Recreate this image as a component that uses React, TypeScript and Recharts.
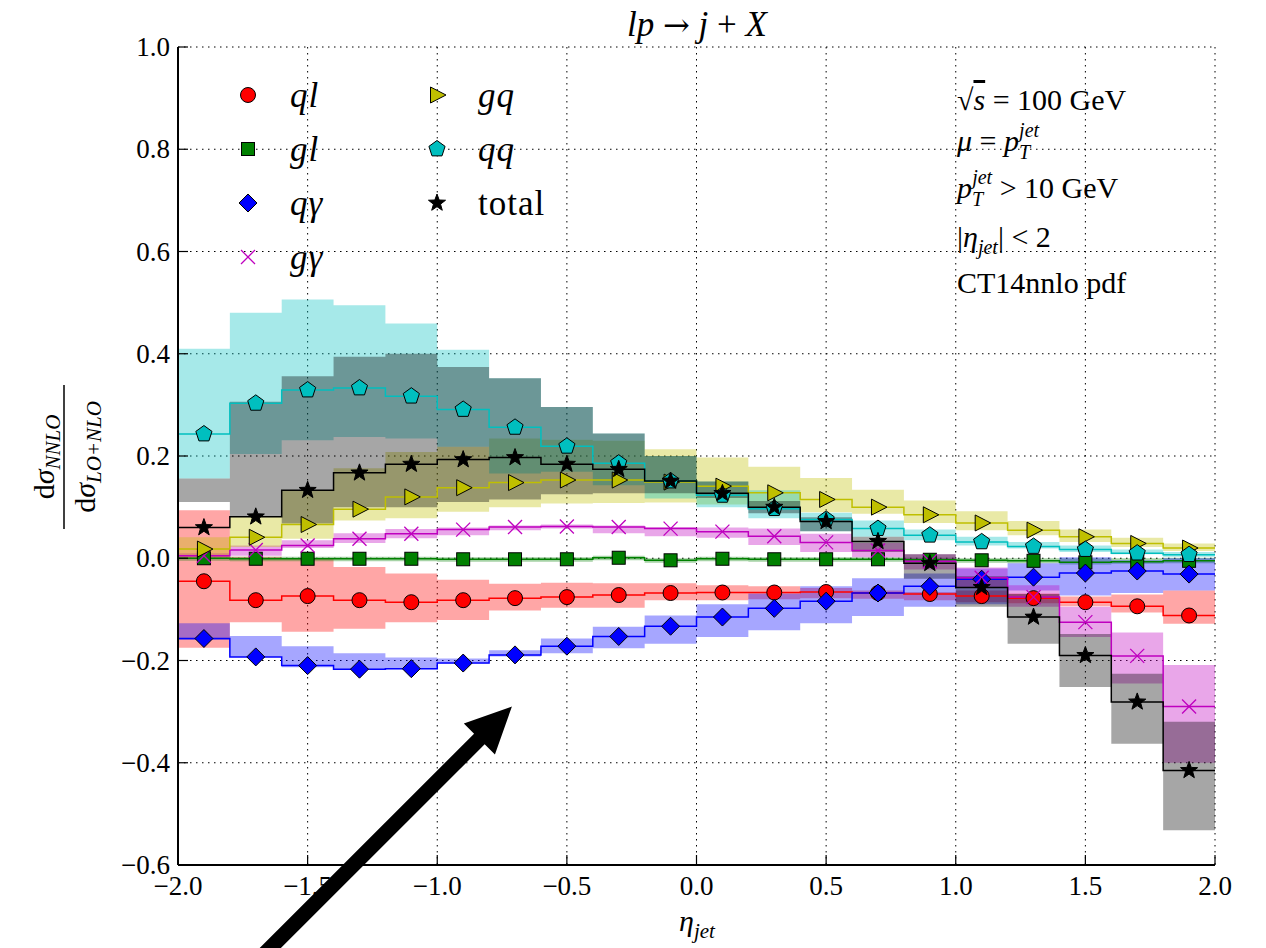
import React from 'react';
import { ComposedChart, Area, Line, Scatter, XAxis, YAxis, CartesianGrid, ReferenceLine } from 'recharts';

// bins of eta_jet, width 0.2
const BIN_EDGES = [-2.0, -1.8, -1.6, -1.4, -1.2, -1.0, -0.8, -0.6, -0.4, -0.2, 0.0, 0.2, 0.4, 0.6, 0.8, 1.0, 1.2, 1.4, 1.6, 1.8, 2.0];
const BIN_CENTERS = [-1.9, -1.7, -1.5, -1.3, -1.1, -0.9, -0.7, -0.5, -0.3, -0.1, 0.1, 0.3, 0.5, 0.7, 0.9, 1.1, 1.3, 1.5, 1.7, 1.9];
const X_TICKS = [-2, -1.5, -1, -0.5, 0, 0.5, 1, 1.5, 2];
const Y_TICKS = [-0.6, -0.4, -0.2, 0, 0.2, 0.4, 0.6, 0.8, 1.0];

// central values and scale-variation bands per channel
const QL = [-0.045, -0.082, -0.074, -0.082, -0.086, -0.082, -0.078, -0.076, -0.072, -0.068, -0.067, -0.067, -0.066, -0.068, -0.070, -0.074, -0.078, -0.086, -0.094, -0.112];
const QL_LO = [-0.175, -0.125, -0.144, -0.138, -0.125, -0.121, -0.102, -0.097, -0.097, -0.082, -0.082, -0.080, -0.078, -0.079, -0.082, -0.086, -0.088, -0.094, -0.106, -0.128];
const QL_HI = [0.094, 0.003, 0.0, -0.017, -0.030, -0.042, -0.050, -0.048, -0.049, -0.049, -0.053, -0.055, -0.058, -0.063, -0.066, -0.063, -0.069, -0.075, -0.071, -0.063];

const GL = [0.0, -0.001, -0.001, -0.001, -0.001, -0.002, -0.002, -0.002, 0.001, -0.004, -0.001, -0.002, -0.002, -0.002, -0.003, -0.004, -0.005, -0.008, -0.007, -0.005];
const GL_LO = [-0.005, -0.006, -0.006, -0.006, -0.006, -0.007, -0.007, -0.007, -0.004, -0.009, -0.006, -0.007, -0.007, -0.007, -0.008, -0.009, -0.010, -0.012, -0.011, -0.010];
const GL_HI = [0.004, 0.003, 0.003, 0.003, 0.003, 0.002, 0.002, 0.002, 0.005, 0.0, 0.003, 0.002, 0.002, 0.002, 0.001, 0.0, 0.0, 0.0, 0.0, 0.001];

const QA = [-0.157, -0.193, -0.210, -0.217, -0.216, -0.205, -0.189, -0.172, -0.153, -0.133, -0.115, -0.098, -0.084, -0.068, -0.055, -0.041, -0.037, -0.029, -0.025, -0.031];
const QA_LO = [-0.160, -0.193, -0.213, -0.217, -0.217, -0.206, -0.192, -0.186, -0.176, -0.167, -0.154, -0.141, -0.127, -0.113, -0.095, -0.090, -0.063, -0.073, -0.068, -0.063];
const QA_HI = [-0.127, -0.152, -0.172, -0.186, -0.194, -0.196, -0.180, -0.157, -0.134, -0.112, -0.090, -0.069, -0.055, -0.039, -0.030, -0.020, -0.010, 0.002, -0.004, 0.0];

const GA = [0.005, 0.016, 0.025, 0.038, 0.048, 0.056, 0.061, 0.062, 0.061, 0.058, 0.052, 0.043, 0.031, 0.015, -0.006, -0.038, -0.076, -0.125, -0.191, -0.290];
const GA_LO = [0.0, 0.005, 0.020, 0.030, 0.039, 0.045, 0.055, 0.058, 0.049, 0.043, 0.040, 0.026, 0.012, 0.002, -0.022, -0.057, -0.095, -0.154, -0.245, -0.400];
const GA_HI = [0.010, 0.025, 0.035, 0.049, 0.057, 0.060, 0.064, 0.066, 0.064, 0.061, 0.060, 0.058, 0.048, 0.030, 0.008, -0.018, -0.053, -0.095, -0.145, -0.209];

const GQ = [0.018, 0.041, 0.066, 0.096, 0.120, 0.138, 0.148, 0.153, 0.153, 0.149, 0.141, 0.128, 0.115, 0.100, 0.085, 0.069, 0.055, 0.042, 0.029, 0.020];
const GQ_LO = [0.0, 0.022, 0.038, 0.074, 0.078, 0.091, 0.100, 0.107, 0.108, 0.109, 0.105, 0.097, 0.090, 0.087, 0.069, 0.055, 0.045, 0.032, 0.022, 0.014];
const GQ_HI = [0.041, 0.081, 0.133, 0.176, 0.208, 0.218, 0.234, 0.232, 0.230, 0.213, 0.197, 0.179, 0.157, 0.134, 0.113, 0.092, 0.073, 0.056, 0.040, 0.029];

const QQ = [0.243, 0.303, 0.329, 0.333, 0.317, 0.291, 0.256, 0.219, 0.186, 0.151, 0.123, 0.097, 0.076, 0.058, 0.045, 0.032, 0.023, 0.017, 0.010, 0.007];
const QQ_LO = [0.156, 0.204, 0.231, 0.237, 0.234, 0.218, 0.166, 0.169, 0.143, 0.117, 0.100, 0.078, 0.053, 0.042, 0.035, 0.025, 0.019, 0.012, 0.008, 0.003];
const QQ_HI = [0.410, 0.480, 0.506, 0.495, 0.459, 0.408, 0.352, 0.296, 0.244, 0.200, 0.150, 0.133, 0.089, 0.074, 0.056, 0.042, 0.032, 0.025, 0.017, 0.012];

const TOTAL = [0.060, 0.081, 0.133, 0.167, 0.184, 0.193, 0.197, 0.184, 0.174, 0.151, 0.127, 0.100, 0.072, 0.033, -0.010, -0.057, -0.115, -0.190, -0.281, -0.415];
const TOTAL_LO = [0.110, 0.081, 0.068, 0.100, 0.100, 0.110, 0.115, 0.125, 0.127, 0.127, 0.118, 0.088, 0.053, 0.012, -0.040, -0.095, -0.167, -0.252, -0.363, -0.532];
const TOTAL_HI = [0.156, 0.306, 0.356, 0.394, 0.400, 0.374, 0.352, 0.296, 0.244, 0.200, 0.150, 0.112, 0.080, 0.042, 0.008, -0.035, -0.070, -0.148, -0.226, -0.320];

// arrow annotation, in data coordinates
const ARROW_TAIL = { x: -1.665, y: -0.773 };
const ARROW_TIP = { x: -0.712, y: -0.29 };

type MarkerKind = 'circle' | 'square' | 'diamond' | 'x' | 'tri' | 'penta' | 'star';

const SERIES: { key: string; label: string; italic: boolean; color: string; marker: MarkerKind; values: number[]; lo: number[]; hi: number[] }[] = [
  { key: 'ql', label: 'ql', italic: true, color: '#ff0000', marker: 'circle', values: QL, lo: QL_LO, hi: QL_HI },
  { key: 'gl', label: 'gl', italic: true, color: '#008000', marker: 'square', values: GL, lo: GL_LO, hi: GL_HI },
  { key: 'qa', label: 'q\u03b3', italic: true, color: '#0000ff', marker: 'diamond', values: QA, lo: QA_LO, hi: QA_HI },
  { key: 'ga', label: 'g\u03b3', italic: true, color: '#bf00bf', marker: 'x', values: GA, lo: GA_LO, hi: GA_HI },
  { key: 'gq', label: 'gq', italic: true, color: '#bfbf00', marker: 'tri', values: GQ, lo: GQ_LO, hi: GQ_HI },
  { key: 'qq', label: 'qq', italic: true, color: '#00bfbf', marker: 'penta', values: QQ, lo: QQ_LO, hi: QQ_HI },
  { key: 'total', label: 'total', italic: false, color: '#000000', marker: 'star', values: TOTAL, lo: TOTAL_LO, hi: TOTAL_HI },
];

const edgeRows = BIN_EDGES.map((x, i) => {
  const b = Math.min(i, BIN_CENTERS.length - 1);
  const row: any = { x };
  SERIES.forEach((s) => {
    row[s.key] = s.values[b];
    row[s.key + 'Band'] = [s.lo[b], s.hi[b]];
  });
  return row;
});

const centerRows = BIN_CENTERS.map((x, i) => {
  const row: any = { x };
  SERIES.forEach((s) => (row[s.key] = s.values[i]));
  return row;
});

const FONT = "'Liberation Serif', 'Times New Roman', serif";
const fmt = (v: number) => (v < 0 ? '\u2212' : '') + Math.abs(v).toFixed(1);

function XTick(props: any) {
  const { x, y, payload } = props;
  return (
    <text x={x} y={y} dy="0.71em" textAnchor="middle" fontFamily={FONT} fontSize={27} fill="#000">
      {fmt(payload.value)}
    </text>
  );
}

function YTick(props: any) {
  const { x, y, payload } = props;
  return (
    <text x={x} y={y} dy="0.34em" textAnchor="end" fontFamily={FONT} fontSize={27} fill="#000">
      {fmt(payload.value)}
    </text>
  );
}

function polyPoints(cx: number, cy: number, n: number, rOut: number, rIn?: number) {
  const pts: string[] = [];
  const count = rIn ? n * 2 : n;
  for (let k = 0; k < count; k++) {
    const a = (-90 + (k * 360) / count) * (Math.PI / 180);
    const r = rIn && k % 2 === 1 ? rIn : rOut;
    pts.push(`${cx + r * Math.cos(a)},${cy + r * Math.sin(a)}`);
  }
  return pts.join(' ');
}

function Marker({ kind, cx, cy, color }: { kind: MarkerKind; cx: number; cy: number; color: string }) {
  const edge = { stroke: '#000', strokeWidth: 1 };
  switch (kind) {
    case 'circle':
      return <circle cx={cx} cy={cy} r={7.5} fill={color} {...edge} />;
    case 'square':
      return <rect x={cx - 6.5} y={cy - 6.5} width={13} height={13} fill={color} {...edge} />;
    case 'diamond':
      return <polygon points={`${cx},${cy - 9} ${cx + 9},${cy} ${cx},${cy + 9} ${cx - 9},${cy}`} fill={color} {...edge} />;
    case 'x':
      return (
        <g stroke={color} strokeWidth={1.3}>
          <line x1={cx - 7} y1={cy - 7} x2={cx + 7} y2={cy + 7} />
          <line x1={cx - 7} y1={cy + 7} x2={cx + 7} y2={cy - 7} />
        </g>
      );
    case 'tri':
      return <polygon points={`${cx + 9},${cy} ${cx - 6.5},${cy - 8} ${cx - 6.5},${cy + 8}`} fill={color} {...edge} />;
    case 'penta':
      return <polygon points={polyPoints(cx, cy, 5, 8.5)} fill={color} {...edge} />;
    default:
      return <polygon points={polyPoints(cx, cy, 5, 9, 3.7)} fill={color} {...edge} />;
  }
}

function ArrowShape(props: any) {
  const { x1, y1, x2, y2 } = props;
  const len = Math.hypot(x2 - x1, y2 - y1);
  const ux = (x2 - x1) / len;
  const uy = (y2 - y1) / len;
  const nx = -uy;
  const ny = ux;
  const headLen = 46;
  const headHalf = 22;
  const shaftHalf = 7.5;
  const bx = x2 - ux * headLen;
  const by = y2 - uy * headLen;
  const p = (x: number, y: number) => `${x},${y}`;
  const pts = [
    p(x1 + nx * shaftHalf, y1 + ny * shaftHalf),
    p(bx + nx * shaftHalf, by + ny * shaftHalf),
    p(bx + nx * headHalf, by + ny * headHalf),
    p(x2, y2),
    p(bx - nx * headHalf, by - ny * headHalf),
    p(bx - nx * shaftHalf, by - ny * shaftHalf),
    p(x1 - nx * shaftHalf, y1 - ny * shaftHalf),
  ].join(' ');
  return <polygon points={pts} fill="#000" />;
}

const LEGEND_ROWS = [95, 149, 203, 257];

function Overlay() {
  const sub = 20;
  return (
    <svg width={1266} height={948} style={{ position: 'absolute', left: 0, top: 0, pointerEvents: 'none' }} fontFamily={FONT}>
      {/* title */}
      <text x={697} y={36} textAnchor="middle" fontSize={35} fill="#000">
        <tspan fontStyle="italic">lp</tspan>
        <tspan> </tspan>
        <tspan fontFamily="'DejaVu Serif', serif" fontSize={32}>{'\u2192'}</tspan>
        <tspan> </tspan>
        <tspan fontStyle="italic">j</tspan>
        <tspan> + </tspan>
        <tspan fontStyle="italic">X</tspan>
      </text>

      {/* legend, two columns */}
      {SERIES.map((s, i) => {
        const col = i < 4 ? 0 : 1;
        const row = i < 4 ? i : i - 4;
        const mx = col === 0 ? 248 : 437;
        const tx = col === 0 ? 290 : 478;
        const cy = LEGEND_ROWS[row];
        return (
          <g key={s.key}>
            <Marker kind={s.marker} cx={mx} cy={cy} color={s.color} />
            <text x={tx} y={cy + 12} fontSize={35} letterSpacing={1} fontStyle={s.italic ? 'italic' : 'normal'} fill="#000">
              {s.label}
            </text>
          </g>
        );
      })}

      {/* run settings */}
      <g fontSize={30} fill="#000">
        <text x={957} y={110}>
          <tspan>{'\u221a'}</tspan>
          <tspan fontStyle="italic" textDecoration="overline">s</tspan>
          <tspan> = 100 GeV</tspan>
        </text>
        <text x={957} y={151}>
          <tspan fontStyle="italic">{'\u03bc'}</tspan>
          <tspan> = </tspan>
          <tspan fontStyle="italic">p</tspan>
          <tspan fontStyle="italic" fontSize={sub} dy={8}>T</tspan>
          <tspan fontStyle="italic" fontSize={sub} dx={-11} dy={-22}>jet</tspan>
        </text>
        <text x={957} y={198}>
          <tspan fontStyle="italic">p</tspan>
          <tspan fontStyle="italic" fontSize={sub} dy={8}>T</tspan>
          <tspan fontStyle="italic" fontSize={sub} dx={-11} dy={-22}>jet</tspan>
          <tspan dy={14}> &gt; 10 GeV</tspan>
        </text>
        <text x={957} y={247}>
          <tspan>|</tspan>
          <tspan fontStyle="italic">{'\u03b7'}</tspan>
          <tspan fontStyle="italic" fontSize={sub} dy={7}>jet</tspan>
          <tspan dy={-7}>| &lt; 2</tspan>
        </text>
        <text x={957} y={293}>CT14nnlo pdf</text>
      </g>

      {/* y label: fraction */}
      <g transform="translate(64,457) rotate(-90)" fill="#000">
        <text x={0} y={-10} textAnchor="middle" fontSize={30}>
          <tspan>d</tspan>
          <tspan fontStyle="italic">{'\u03c3'}</tspan>
          <tspan fontStyle="italic" fontSize={21} dy={6}>NNLO</tspan>
        </text>
        <line x1={-72} x2={72} y1={0} y2={0} stroke="#000" strokeWidth={1.5} />
        <text x={0} y={31} textAnchor="middle" fontSize={30}>
          <tspan>d</tspan>
          <tspan fontStyle="italic">{'\u03c3'}</tspan>
          <tspan fontStyle="italic" fontSize={21} dy={6}>LO+NLO</tspan>
        </text>
      </g>

      {/* x label */}
      <text x={697} y={931} textAnchor="middle" fill="#000">
        <tspan fontStyle="italic" fontSize={30}>{'\u03b7'}</tspan>
        <tspan fontStyle="italic" fontSize={21} dy={7}>jet</tspan>
      </text>
    </svg>
  );
}

export default function App() {
  const axisLine = { stroke: '#000', strokeWidth: 2 };
  const tickLine = { stroke: '#000', strokeWidth: 1.2 };
  return (
    <div style={{ position: 'absolute', left: 0, top: 0, width: 1266, height: 948, background: '#fff' }}>
      <ComposedChart width={1266} height={948} data={edgeRows} margin={{ top: 47, right: 51, bottom: 0, left: 0 }}>
        <CartesianGrid stroke="#000" strokeDasharray="1.5 4.5" strokeWidth={1} />
        <XAxis
          dataKey="x"
          type="number"
          domain={[-2, 2]}
          ticks={X_TICKS}
          interval={0}
          allowDataOverflow
          tick={<XTick />}
          tickSize={-10}
          tickMargin={21}
          axisLine={axisLine}
          tickLine={tickLine}
          height={83}
        />
        <XAxis
          xAxisId="top"
          orientation="top"
          dataKey="x"
          type="number"
          domain={[-2, 2]}
          ticks={X_TICKS}
          interval={0}
          allowDataOverflow
          tickFormatter={() => ''}
          tickSize={-10}
          axisLine={axisLine}
          tickLine={tickLine}
          height={0}
        />
        <YAxis
          type="number"
          domain={[-0.6, 1.0]}
          ticks={Y_TICKS}
          interval={0}
          allowDataOverflow
          tick={<YTick />}
          tickSize={-10}
          tickMargin={18}
          axisLine={axisLine}
          tickLine={tickLine}
          width={178}
        />
        <YAxis
          yAxisId="right"
          orientation="right"
          type="number"
          domain={[-0.6, 1.0]}
          ticks={Y_TICKS}
          interval={0}
          allowDataOverflow
          tickFormatter={() => ''}
          tickSize={-10}
          axisLine={axisLine}
          tickLine={tickLine}
          width={0}
        />

        {SERIES.map((s) => (
          <Area
            key={s.key + 'Band'}
            dataKey={s.key + 'Band'}
            type="stepAfter"
            fill={s.color}
            fillOpacity={0.35}
            stroke="none"
            dot={false}
            activeDot={false}
            isAnimationActive={false}
          />
        ))}

        {SERIES.map((s) => (
          <Line
            key={s.key + 'Line'}
            dataKey={s.key}
            type="stepAfter"
            stroke={s.color}
            strokeWidth={1.5}
            dot={false}
            activeDot={false}
            isAnimationActive={false}
          />
        ))}

        {SERIES.map((s) => (
          <Scatter
            key={s.key + 'Pts'}
            data={centerRows}
            dataKey={s.key}
            isAnimationActive={false}
            shape={(p: any) => <Marker kind={s.marker} cx={p.cx} cy={p.cy} color={s.color} />}
          />
        ))}

        <ReferenceLine segment={[ARROW_TAIL, ARROW_TIP]} ifOverflow="visible" shape={ArrowShape} />
      </ComposedChart>
      <Overlay />
    </div>
  );
}
